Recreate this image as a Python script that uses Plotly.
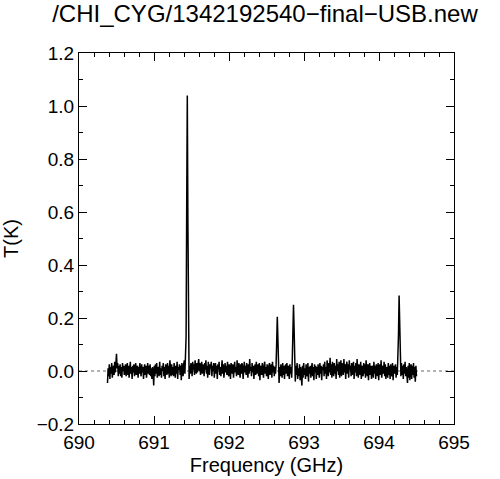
import numpy as np
import plotly.graph_objects as go

# Spectrum samples (mK); 10 samples per row, step 0.008 GHz
freq_start = 690.38
freq_step = 0.008
spectrum_mK = [
    -45, 10, -20, 25, -30, 15, -10, 30, -25, 5,
    20, -15, 35, -5, 25, 65, 10, 30, -20, 20,
    -10, 25, -20, 15, -25, 30, 0, 20, -15, 10,
    25, -20, 5, 30, -15, 20, -25, 15, 35, -10,
    15, -30, 20, -5, 25, -20, 10, 30, -15, 5,
    20, -25, 15, -10, 30, 0, -20, 25, -5, 15,
    -30, 10, 25, -15, 20, -25, 5, 30, -10, 20,
    -15, 25, -20, 10, -30, 15, -5, -55, 20, -20,
    25, -10, 30, -25, 15, 5, -20, 35, -15, 10,
    -25, 20, 0, 30, -20, 15, -30, 25, 10, -15,
    30, -10, 20, -25, 40, 5, -20, 25, -15, 15,
    -20, 30, 10, -25, 20, -10, 35, -30, 15, 5,
    25, -15, 20, -35, 30, 10, -20, 25, 40, -10,
    35, 130, 620, 1040, 560, 90, -30, 20, -10, 30,
    15, -20, 35, 5, 25, -15, 40, 10, -10, 30,
    -5, 25, 45, 0, 30, -15, 20, 35, -10, 25,
    10, -20, 30, 5, 40, -10, 20, -25, 35, 15,
    -15, 25, 10, 35, -20, 20, 0, 30, -25, 15,
    30, -10, 20, -30, 25, 5, 35, -15, 15, -20,
    20, 40, -10, 25, -25, 15, 30, -5, 20, -15,
    35, 0, -20, 25, 10, -30, 30, 15, -10, 25,
    -25, 20, 35, -5, 15, -20, 40, 5, -15, 30,
    10, -25, 25, -10, 30, 20, -30, 15, 35, -5,
    20, -15, 30, 5, -25, 25, -10, 45, 0, 15,
    -20, 30, -5, 20, -30, 10, 25, -15, 35, -10,
    15, 25, -20, 30, -35, 20, 5, -15, 30, 10,
    -25, 20, 35, -10, 15, -20, 25, 0, -30, 20,
    30, -15, 10, 25, -25, 35, -5, 20, -20, 15,
    -10, 25, 110, 205, 120, 10, -45, 15, -20, 25,
    5, -25, 30, -15, 20, -30, 15, 25, -10, 30,
    -20, 20, 5, -30, 25, -10, 15, -25, 45, 150,
    250, 160, 40, -40, 20, -15, 30, -30, 10, -20,
    25, -35, 15, -10, -55, 20, -25, 30, -15, 10,
    -30, 25, 5, -20, 30, -40, 15, -10, 20, -25,
    10, 30, -20, 15, -35, 25, -5, 20, -30, 15,
    -15, 25, 0, -25, 30, -10, 20, -35, 15, 5,
    25, -20, 35, -10, 15, -30, 40, 5, -20, 30,
    -5, 50, -15, 25, -25, 35, 10, -20, 30, -10,
    20, -30, 45, 0, 25, -15, 35, -25, 15, 40,
    -20, 30, 10, -15, 45, -5, 25, -30, 20, 35,
    -10, 25, -25, 40, 5, 20, -20, 30, -15, 15,
    35, -30, 20, -5, 30, -20, 45, 0, -25, 25,
    10, -15, 35, -30, 20, 5, -20, 30, -10, 25,
    -25, 40, 0, -20, 25, -35, 15, 30, -15, 20,
    -30, 20, 10, -25, 35, -10, 20, -30, 25, 5,
    -20, 30, -35, 15, 25, -15, 40, -25, 10, 20,
    -10, 35, -20, 25, -30, 15, 5, -25, 30, -15,
    20, -30, 25, 0, -20, 30, -35, 15, 20, -10,
    25, -25, 15, -15, 35, 140, 285, 150, 20, -20,
    30, -15, 20, -30, 25, -10, 35, -20, 15, -5,
    -45, 20, -25, 30, -35, 15, 25, -30, 20, -15,
    30, -25, 15, -40, 20, -20,
]

x_range = [690, 695]
y_range = [-0.2, 1.2]
# zero-width non-joiner keeps "f" and "i" as separate glyphs, as in the original
title_text = "/CHI_CYG/1342192540\u2212f\u200cinal\u2212USB.new"

freq = freq_start + freq_step * np.arange(len(spectrum_mK))
temp_K = np.array(spectrum_mK) / 1000.0

FONT = "Liberation Sans, Arial, Helvetica, sans-serif"

fig = go.Figure()
fig.add_trace(go.Scatter(x=x_range, y=[0, 0], mode="lines",
                         line=dict(color="#666666", width=1, dash="dot"),
                         hoverinfo="skip", showlegend=False))
fig.add_trace(go.Scatter(x=freq, y=temp_K, mode="lines",
                         line=dict(color="black", width=1.5),
                         showlegend=False))

axis_common = dict(showline=True, linecolor="black", linewidth=1, mirror="ticks",
                   ticks="inside", ticklen=8, tickcolor="black", showgrid=False,
                   zeroline=False, automargin=False,
                   tickfont=dict(size=19, color="black"))

fig.update_xaxes(range=x_range, dtick=1, tickformat="d",
                 minor=dict(ticks="inside", dtick=0.2, ticklen=4, tickcolor="black"),
                 title=dict(text="Frequency (GHz)", font=dict(size=20, color="black"), standoff=6),
                 ticklabelstandoff=1,
                 **axis_common)
fig.update_yaxes(range=y_range, dtick=0.2, tickformat=".1f",
                 minor=dict(ticks="inside", dtick=0.1, ticklen=4, tickcolor="black"),
                 title=dict(text="T(K)", font=dict(size=20, color="black"), standoff=25),
                 ticklabelstandoff=0,
                 **axis_common)

fig.update_layout(
    width=500, height=479,
    margin=dict(l=79, r=46, t=53, b=55),
    paper_bgcolor="white", plot_bgcolor="white",
    font=dict(family=FONT, color="black"),
    title=dict(text=title_text, x=0.53, xanchor="center", y=0.9896, yanchor="top",
               yref="container", font=dict(size=24, color="black")),
)

fig.write_html("out.html", config={"displayModeBar": False},
               post_script="document.body.style.margin='0';")
